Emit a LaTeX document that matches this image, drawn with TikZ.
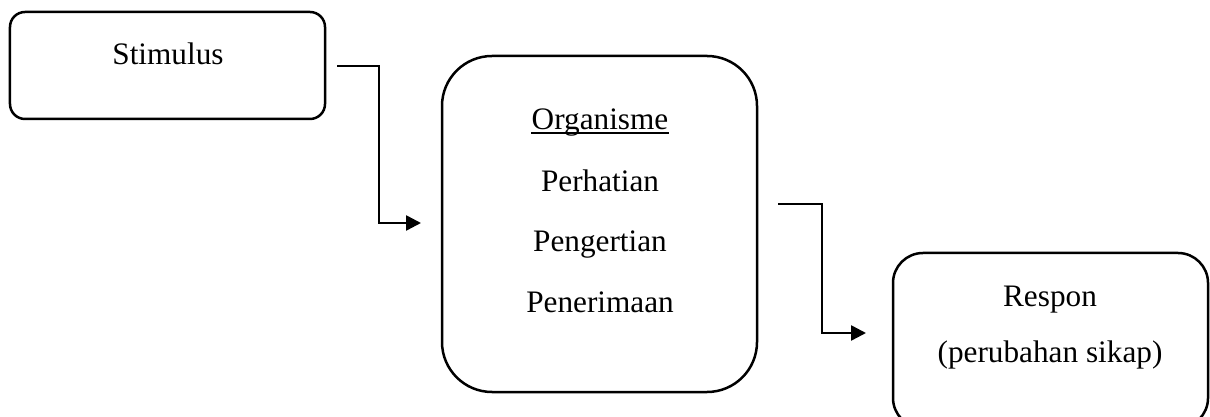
\documentclass[tikz,border=0pt]{standalone}
\usepackage{fontspec}
\setmainfont{Liberation Serif}
\usetikzlibrary{arrows.meta, positioning}

\begin{document}
\begin{tikzpicture}[
  x=0.4pt, y=-0.4pt,
  box/.style={rectangle, draw=black, line width=1pt, rounded corners=#1,
              inner sep=0pt},
  txt/.style={anchor=base, inner sep=0pt, font=\fontsize{12.5}{15}\selectfont},
  arr/.style={-{Triangle[length=6pt, width=6pt]}, line width=1pt},
]
  \useasboundingbox (0,0) rectangle (1210,417);

  % Stimulus
  \node[box=6pt, minimum width=126pt, minimum height=42.8pt] (stim) at (167.5,65.5) {};
  \node[txt] (stimtxt) at (168,65) {Stimulus};

  % Organisme
  \node[box=20pt, minimum width=126pt, minimum height=134.4pt] (org) at (599.5,224) {};
  \node[txt] (orgtitle) at (600,130) {Organisme};
  \draw[line width=0.6pt] ([yshift=-1.2pt]orgtitle.base west) -- ([yshift=-1.2pt]orgtitle.base east);
  \node[txt] (org1) at (600,192) {Perhatian};
  \node[txt] (org2) at (600,252) {Pengertian};
  \node[txt] (org3) at (600,313) {Penerimaan};

  % Respon
  \node[box=12pt, minimum width=126pt, minimum height=70pt] (resp) at (1050.5,340.5) {};
  \node[txt] (resp1) at (1050,307) {Respon};
  \node[txt] (resp2) at (1050,363) {(perubahan sikap)};

  % Connectors
  \coordinate (a1s) at (337,66);
  \coordinate (a1e) at (421,223);
  \coordinate (a2s) at (778,204);
  \coordinate (a2e) at (866,333);
  \draw[arr] (a1s) -| (379,145) |- (a1e);
  \draw[arr] (a2s) -| (822,270) |- (a2e);
\end{tikzpicture}
\end{document}
